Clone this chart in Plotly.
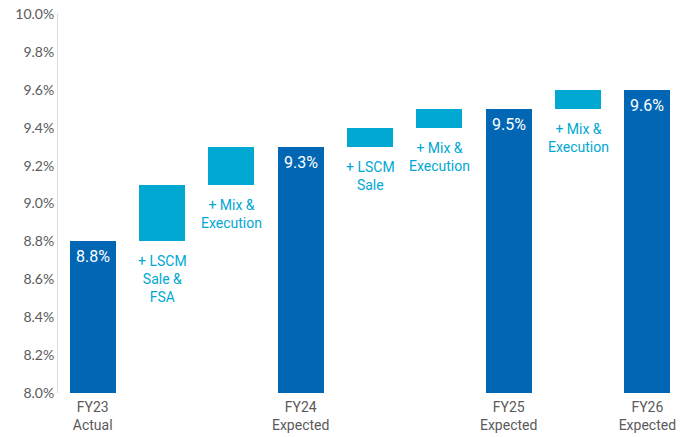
import plotly.graph_objects as go

# Margin bridge: totals and incremental steps
categories = ["FY23<br>Actual", "+ LSCM<br>Sale &<br>FSA", "+ Mix &<br>Execution",
              "FY24<br>Expected", "+ LSCM<br>Sale", "+ Mix &<br>Execution",
              "FY25<br>Expected", "+ Mix &<br>Execution", "FY26<br>Expected"]
kinds = ["total", "step", "step", "total", "step", "step", "total", "step", "total"]
values = [8.8, 0.3, 0.2, 9.3, 0.1, 0.1, 9.5, 0.1, 9.6]

y_ticks = [8.0, 8.2, 8.4, 8.6, 8.8, 9.0, 9.2, 9.4, 9.6, 9.8, 10.0]
axis_floor = 8.0

DARK = "#0166B4"
LIGHT = "#00A8D2"
GRAY = "#5a5a5a"

xs = list(range(len(categories)))
bases, heights, colors = [], [], []
running = axis_floor
for k, v in zip(kinds, values):
    if k == "total":
        bases.append(axis_floor)
        heights.append(v - axis_floor)
        colors.append(DARK)
        running = v
    else:
        bases.append(running)
        heights.append(v)
        colors.append(LIGHT)
        running += v

fig = go.Figure()
fig.add_trace(go.Bar(
    x=xs, y=heights, base=bases, marker_color=colors, width=0.66,
    marker_line_width=0, hoverinfo="skip", showlegend=False,
))

annotations = []
for x, k, v, b in zip(xs, kinds, values, bases):
    if k == "total":
        annotations.append(dict(
            x=x, y=v, text=f"{v:.1f}%", showarrow=False, yanchor="top", yshift=-4,
            font=dict(family="Roboto", size=16, color="white"),
        ))
    else:
        annotations.append(dict(
            x=x, y=b, text=categories[x], showarrow=False, yanchor="top", yshift=-10,
            font=dict(family="Roboto", size=14, color=LIGHT),
        ))

tick_vals = [x for x, k in zip(xs, kinds) if k == "total"]
tick_text = [c for c, k in zip(categories, kinds) if k == "total"]

fig.update_layout(
    width=682, height=437,
    margin=dict(l=58, r=0, t=14, b=44),
    plot_bgcolor="white", paper_bgcolor="white",
    annotations=annotations,
    bargap=0,
    xaxis=dict(
        range=[-0.5, len(categories) - 0.5], tickvals=tick_vals, ticktext=tick_text,
        showgrid=False, zeroline=False, showline=False, ticks="",
        ticklabelstandoff=4,
        tickfont=dict(family="Roboto", size=14, color=GRAY),
    ),
    yaxis=dict(
        range=[axis_floor, 10.0], tickvals=y_ticks,
        ticktext=[f"{t:.1f}%" for t in y_ticks],
        showgrid=False, zeroline=False, showline=True, linecolor="#d9d9d9", linewidth=1,
        ticks="", ticklen=0,
        tickfont=dict(family="Lato", size=14, color=GRAY),
    ),
)

fig.write_html("out.html")
